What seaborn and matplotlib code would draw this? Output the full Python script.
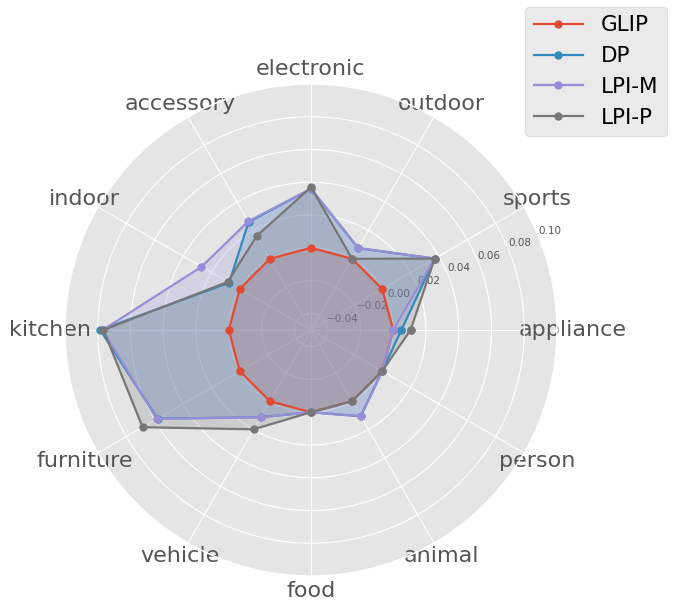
import numpy as np
import pandas as pd
import matplotlib
matplotlib.use("Agg")
import matplotlib.pyplot as plt
import seaborn as sns

plt.style.use("ggplot")

categories = ["appliance", "sports", "outdoor", "electronic", "accessory", "indoor",
              "kitchen", "furniture", "vehicle", "food", "animal", "person"]
methods = ["GLIP", "DP", "LPI-M", "LPI-P"]
glip = [0.0, 0.0, 0.0, 0.0, 0.0, 0.0, 0.0, 0.0, 0.0, 0.0, 0.0, 0.0]
dp = [0.005, 0.037, 0.0075, 0.036, 0.026, 0.0075, 0.0785, 0.058, 0.0113, 0.0, 0.0106, 0.0]
lpi_m = [0.0, 0.037, 0.0076, 0.036, 0.0264, 0.027, 0.077, 0.0584, 0.0113, 0.0, 0.0106, 0.0]
lpi_p = [0.0106, 0.037, 0.0, 0.037, 0.0161, 0.0085, 0.0765, 0.0685, 0.0198, 0.0, 0.0, 0.0]
colors = ["#E24A33", "#348ABD", "#988ED5", "#777777"]

series = [glip, dp, lpi_m, lpi_p]
n = len(categories)
angles = np.linspace(0, 2 * np.pi, n, endpoint=False)
angles_closed = np.concatenate([angles, [2 * np.pi]])

rows = []
for m, vals in zip(methods, series):
    vc = list(vals) + [vals[0]]
    for a, v in zip(angles_closed, vc):
        rows.append({"method": m, "angle": a, "value": v})
df = pd.DataFrame(rows)

fig = plt.figure(figsize=(6.74, 6.10), dpi=100)
ax = fig.add_axes([0.0964, 0.0557, 0.730, 0.8066], projection="polar")

for m, c in zip(methods, colors):
    sub = df[df["method"] == m]
    sns.lineplot(data=sub, x="angle", y="value", ax=ax, color=c, marker="o",
                 markersize=6, markeredgewidth=0, linewidth=1.6, sort=True,
                 estimator=None, label=m, legend=False)
    ax.fill(sub["angle"], sub["value"], color=c, alpha=0.22, zorder=1)

ax.set_xticks(angles)
ax.set_xticklabels(categories, fontsize=16, color="#555555")
ax.tick_params(axis="x", pad=0.5)
ax.set_ylim(-0.0502, 0.10)
ax.set_yticks([-0.04, -0.02, 0.0, 0.02, 0.04, 0.06, 0.08, 0.10])
ax.tick_params(axis="y", labelsize=7.5, colors="#555555")
ax.set_xlabel("")
ax.set_ylabel("")

handles = ax.get_lines()[:4]
leg = fig.legend(handles, methods, loc="upper right", fontsize=15.5,
                 bbox_to_anchor=(0.989, 0.989), bbox_transform=fig.transFigure,
                 borderaxespad=0, frameon=True, handlelength=2.3)

fig.savefig("out.png", dpi=100)
